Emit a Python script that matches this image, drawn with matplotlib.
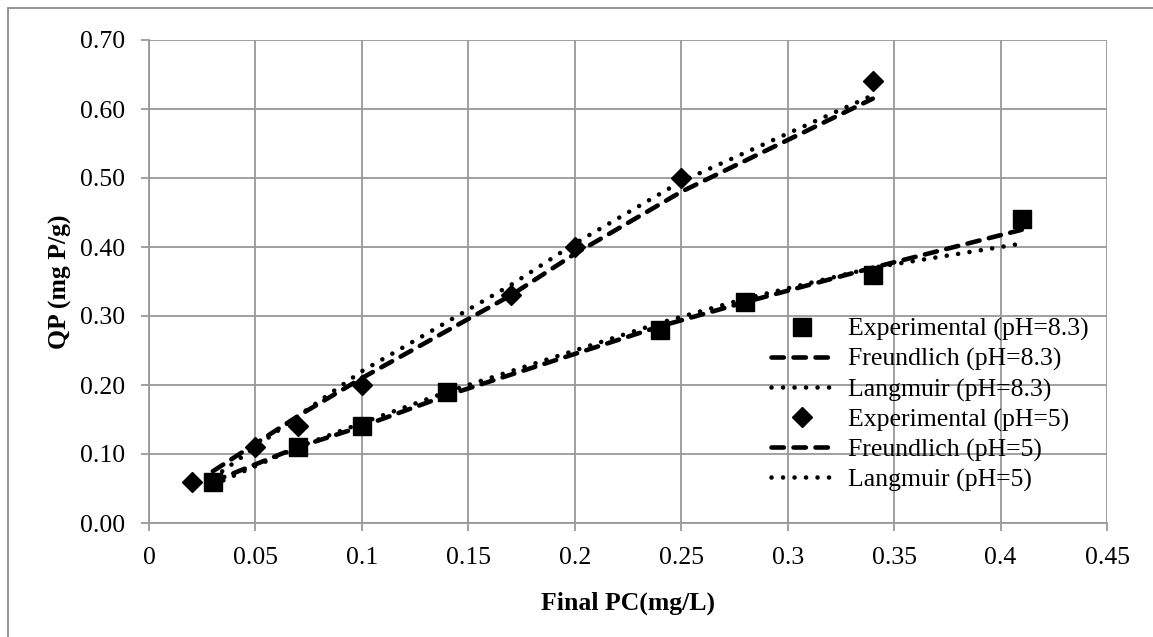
"""Adsorption isotherms: experimental points with Freundlich and Langmuir fits."""

import matplotlib
matplotlib.use("Agg")
import matplotlib.pyplot as plt
from matplotlib.patches import Rectangle

# Section: values
x_ph83 = [0.03, 0.07, 0.10, 0.14, 0.24, 0.28, 0.34, 0.41]
exp_ph83 = [0.06, 0.11, 0.14, 0.19, 0.28, 0.32, 0.36, 0.44]
freund_ph83 = [0.060, 0.110, 0.140, 0.185, 0.285, 0.320, 0.370, 0.425]
lang_ph83 = [0.055, 0.110, 0.145, 0.190, 0.290, 0.325, 0.370, 0.405]

x_ph5 = [0.02, 0.05, 0.07, 0.10, 0.17, 0.20, 0.25, 0.34]
exp_ph5 = [0.06, 0.11, 0.14, 0.20, 0.33, 0.40, 0.50, 0.64]
x_fit_ph5 = [0.03, 0.05, 0.07, 0.10, 0.17, 0.20, 0.25, 0.34]
freund_ph5 = [0.075, 0.115, 0.155, 0.210, 0.330, 0.390, 0.480, 0.615]
lang_ph5 = [0.065, 0.110, 0.155, 0.220, 0.345, 0.405, 0.495, 0.620]

x_ticks = [0, 0.05, 0.1, 0.15, 0.2, 0.25, 0.3, 0.35, 0.4, 0.45]
x_tick_labels = ["0", "0.05", "0.1", "0.15", "0.2", "0.25", "0.3", "0.35", "0.4", "0.45"]
y_ticks = [0.0, 0.1, 0.2, 0.3, 0.4, 0.5, 0.6, 0.7]

# Section: styling
plt.rcParams["font.family"] = ["Liberation Serif", "DejaVu Serif"]
GRID = "#999999"
FS = 18.5
LW = 3.3
DASH = (0, (2.7, 2.1))
DOT = (0, (0.01, 2.5))

fig = plt.figure(figsize=(11.53, 6.37), dpi=100)
# chart-area border: only its left and top edges fall inside the image
fig.patches.append(Rectangle((8 / 1153, -0.1), 1.2, (629 + 64) / 637,
                             transform=fig.transFigure, fill=False,
                             edgecolor="#8c8c8c", linewidth=1.3))
ax = fig.add_axes([149 / 1153, (637 - 523) / 637, 958 / 1153, 483 / 637])

# Section: draw series
ax.plot(x_ph83, exp_ph83, linestyle="none", marker="s", markersize=13,
        color="black", label="Experimental (pH=8.3)", zorder=3)
ax.plot(x_ph83, freund_ph83, linestyle=DASH, linewidth=LW, color="black",
        dash_capstyle="round", label="Freundlich (pH=8.3)", zorder=4)
ax.plot(x_ph83, lang_ph83, linestyle=DOT, linewidth=LW, color="black",
        dash_capstyle="round", label="Langmuir (pH=8.3)", zorder=4)
ax.plot(x_ph5, exp_ph5, linestyle="none", marker="D", markersize=10.5,
        color="black", label="Experimental (pH=5)", zorder=3)
ax.plot(x_fit_ph5, freund_ph5, linestyle=DASH, linewidth=LW, color="black",
        dash_capstyle="round", label="Freundlich (pH=5)", zorder=4)
ax.plot(x_fit_ph5, lang_ph5, linestyle=DOT, linewidth=LW, color="black",
        dash_capstyle="round", label="Langmuir (pH=5)", zorder=4)

# Section: axes, grid, labels
ax.set_xlim(0, 0.45)
ax.set_ylim(0, 0.70)
ax.set_xticks(x_ticks)
ax.set_xticklabels(x_tick_labels)
ax.set_yticks(y_ticks)
ax.set_yticklabels([f"{v:.2f}" for v in y_ticks])
ax.grid(True, color=GRID, linewidth=1.3)
ax.set_axisbelow(True)
for side in ["top", "right"]:
    ax.spines[side].set_visible(False)
for side in ["left", "bottom"]:
    ax.spines[side].set_color(GRID)
    ax.spines[side].set_linewidth(1.3)
ax.tick_params(axis="both", colors=GRID, labelcolor="black", labelsize=FS,
               length=6, width=1.3, direction="out")
ax.tick_params(axis="x", pad=11.5)
ax.tick_params(axis="y", pad=11)

ax.set_xlabel("Final PC(mg/L)", fontsize=FS, fontweight="bold", labelpad=16)
ax.set_ylabel("QP (mg P/g)", fontsize=FS, fontweight="bold", labelpad=6)

leg = ax.legend(loc="upper left", bbox_to_anchor=(771 / 1153, (637 - 318) / 637),
                bbox_transform=fig.transFigure, frameon=False, fontsize=FS,
                handlelength=2.45, handletextpad=0.55, labelspacing=0.26,
                borderpad=0, borderaxespad=0)

fig.savefig("out.png", dpi=100)
